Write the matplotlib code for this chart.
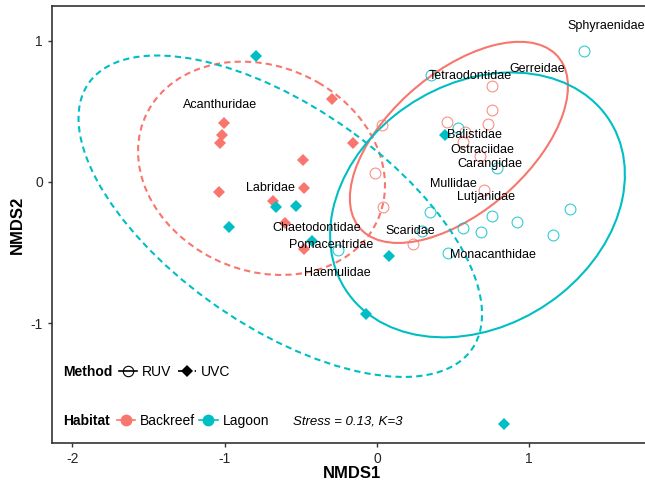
import numpy as np
import matplotlib.pyplot as plt
from matplotlib.patches import Ellipse
from matplotlib.lines import Line2D

plt.rcParams['font.family'] = ['Liberation Sans', 'DejaVu Sans']
plt.rcParams['axes.unicode_minus'] = False

backreef_col = '#F8766D'
lagoon_col = '#00BFC4'

# site scores, UVC (filled diamonds)
backreef_uvc_x = [-0.297, -1.003, -1.016, -1.029, -0.158, -0.484, -1.040, -0.479, -0.685, -0.604, -0.479]
backreef_uvc_y = [0.590, 0.415, 0.332, 0.273, 0.278, 0.155, -0.068, -0.040, -0.132, -0.287, -0.475]
lagoon_uvc_x = [-0.794, -0.665, -0.534, -0.972, -0.424, 0.081, -0.072, 0.446, 0.836]
lagoon_uvc_y = [0.890, -0.174, -0.170, -0.316, -0.416, -0.525, -0.935, 0.330, -1.713]

# site scores, RUV (open circles)
backreef_ruv_x = [0.757, 0.753, 0.462, 0.729, 0.031, 0.575, 0.562, 0.676, -0.015, 0.705, 0.042, 0.234]
backreef_ruv_y = [0.680, 0.510, 0.424, 0.410, 0.400, 0.356, 0.285, 0.185, 0.061, -0.057, -0.177, -0.440]
lagoon_ruv_x = [0.352, 1.361, 0.534, 0.790, 0.350, 0.753, 0.921, 1.267, 0.562, 0.680, 1.158, 0.293, 0.468, -0.254]
lagoon_ruv_y = [0.756, 0.928, 0.380, 0.100, -0.210, -0.239, -0.280, -0.193, -0.322, -0.352, -0.372, -0.347, -0.504, -0.483]

# family labels
families = ['Sphyraenidae', 'Gerreidae', 'Tetraodontidae', 'Balistidae', 'Ostraciidae',
            'Carangidae', 'Mullidae', 'Lutjanidae', 'Scaridae', 'Monacanthidae',
            'Haemulidae', 'Pomacentridae', 'Chaetodontidae', 'Labridae', 'Acanthuridae']
family_x = [1.508, 1.050, 0.614, 0.643, 0.693, 0.742, 0.503, 0.715, 0.221, 0.762,
            -0.263, -0.303, -0.396, -0.700, -1.028]
family_y = [1.100, 0.800, 0.750, 0.330, 0.226, 0.127, -0.014, -0.104, -0.344, -0.516,
            -0.641, -0.445, -0.323, -0.040, 0.544]

# 95% ellipses: centre, x/y half-extent, tilt (cos of phase)
ell_habitat = ['Backreef', 'Backreef', 'Lagoon', 'Lagoon']
ell_method = ['RUV', 'UVC', 'RUV', 'UVC']
ell_cx = [0.538, -0.758, 0.660, -0.635]
ell_cy = [0.280, 0.097, -0.162, -0.242]
ell_rx = [0.716, 0.811, 0.968, 1.325]
ell_ry = [0.711, 0.754, 0.936, 1.136]
ell_corr = [0.556, -0.16, 0.23, -0.61]

colors = {'Backreef': backreef_col, 'Lagoon': lagoon_col}
styles = {'RUV': '-', 'UVC': (0, (3, 2))}

fig = plt.figure(figsize=(6.45, 4.86), dpi=100)
ax = fig.add_axes([52 / 645, 43 / 486, 600 / 645, 437 / 486])

for hab, meth, cx, cy, rx, ry, c in zip(ell_habitat, ell_method, ell_cx, ell_cy, ell_rx, ell_ry, ell_corr):
    m = np.array([[rx ** 2, rx * ry * c], [rx * ry * c, ry ** 2]])
    vals, vecs = np.linalg.eigh(m)
    ang = np.degrees(np.arctan2(vecs[1, 1], vecs[0, 1]))
    e = Ellipse((cx, cy), 2 * np.sqrt(vals[1]), 2 * np.sqrt(vals[0]), angle=ang,
                fill=False, edgecolor=colors[hab], lw=1.5, linestyle=styles[meth], zorder=2)
    ax.add_patch(e)

ax.plot(backreef_ruv_x, backreef_ruv_y, 'o', mfc='none', mec=backreef_col, ms=7.8, mew=0.8, alpha=0.8, zorder=3)
ax.plot(lagoon_ruv_x, lagoon_ruv_y, 'o', mfc='none', mec=lagoon_col, ms=7.8, mew=0.8, alpha=0.8, zorder=3)
ax.plot(backreef_uvc_x, backreef_uvc_y, 'D', color=backreef_col, ms=6, mew=0, zorder=3)
ax.plot(lagoon_uvc_x, lagoon_uvc_y, 'D', color=lagoon_col, ms=6, mew=0, zorder=3)

for name, x, y in zip(families, family_x, family_y):
    ax.text(x, y, name, fontsize=9, ha='center', va='center', color='black', zorder=4)

ax.set_xlim(-2.134, 1.806)
ax.set_ylim(-1.845, 1.244)
ax.set_xticks([-2, -1, 0, 1])
ax.set_yticks([-1, 0, 1])
ax.tick_params(length=3, width=1, color='#333333', labelsize=10, labelcolor='#262626', pad=3.5)
for s in ax.spines.values():
    s.set_color('#333333')
    s.set_linewidth(1.2)
ax.set_xlabel('NMDS1', fontsize=12, fontweight='bold', labelpad=0)
ax.set_ylabel('NMDS2', fontsize=12, fontweight='bold', labelpad=4)

# legends
method_handles = [
    Line2D([], [], color='black', lw=1.2, marker='o', mfc='none', mec='black', ms=7.5, mew=0.8),
    Line2D([], [], color='black', lw=1.2, ls=(0, (3, 2)), marker='D', ms=6, mew=0),
]
leg1 = ax.legend(method_handles, ['RUV', 'UVC'], ncol=2, loc='center left',
                 bbox_to_anchor=(0.1117, 0.1625), frameon=False, fontsize=10,
                 handlelength=1.3, handletextpad=0.36, columnspacing=0.45,
                 borderpad=0, borderaxespad=0)
ax.add_artist(leg1)
hab_handles = [
    Line2D([], [], color=backreef_col, lw=1.2, marker='o', ms=8.5, mew=0),
    Line2D([], [], color=lagoon_col, lw=1.2, marker='o', ms=8.5, mew=0),
]
ax.legend(hab_handles, ['Backreef', 'Lagoon'], ncol=2, loc='center left',
          bbox_to_anchor=(0.1083, 0.0503), frameon=False, fontsize=10,
          handlelength=1.3, handletextpad=0.36, columnspacing=0.3,
          borderpad=0, borderaxespad=0)
ax.text(0.0183, 0.1625, 'Method', transform=ax.transAxes, fontsize=10,
        fontweight='bold', va='center', ha='left')
ax.text(0.0183, 0.0503, 'Habitat', transform=ax.transAxes, fontsize=10,
        fontweight='bold', va='center', ha='left')
ax.text(0.4017, 0.0503, 'Stress = 0.13, K=3', transform=ax.transAxes, fontsize=9.5,
        style='italic', va='center', ha='left')

fig.savefig('out.png', dpi=100)
